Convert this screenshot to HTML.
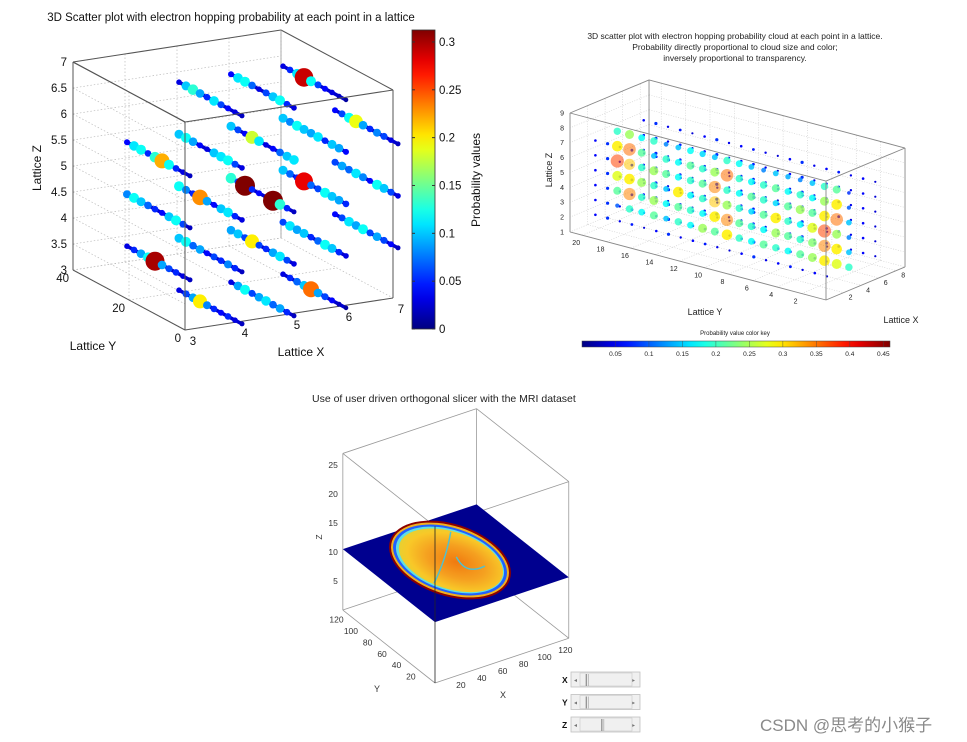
<!DOCTYPE html>
<html><head><meta charset="utf-8">
<style>
html,body{margin:0;padding:0;background:#fff;}
svg{display:block;font-family:"Liberation Sans",Arial,sans-serif;}
.wm{position:absolute;left:760px;top:711px;font:17px "Liberation Sans","Noto Sans CJK SC",sans-serif;color:#8a8a8a;}
</style></head>
<body>
<div style="position:relative;width:967px;height:742px;overflow:hidden">
<svg id="svg" width="967" height="742" viewBox="0 0 967 742">
<defs>
<linearGradient id="jetV" x1="0" y1="1" x2="0" y2="0"></linearGradient>
<linearGradient id="jetH" x1="0" y1="0" x2="1" y2="0"></linearGradient>
<radialGradient id="brainG" cx="0.55" cy="0.5" r="0.55">
<stop offset="0" stop-color="#f07a10"/><stop offset="0.5" stop-color="#f5a020"/><stop offset="0.85" stop-color="#f8c828"/><stop offset="1" stop-color="#e8d030"/>
</radialGradient>
</defs>
<g id="tl"></g>
<g id="tr"></g>
<g id="bm"></g>
</svg>
<div class="wm">CSDN @思考的小猴子</div>
</div>
<script>
// ---------- data: top-left lattice chart ----------
const tlLineX = [4.5,5.5,6.5, 3.5,4.5,5.5,6.5,7.5, 3.5,4.5,5.5,6.5,7.5, 3.5,4.5,5.5,6.5,7.5, 4.5,5.5,6.5];
const tlLineZ = [6.67,6.67,6.67, 5.67,5.67,5.67,5.67,5.67, 4.67,4.67,4.67,4.67,4.67, 3.67,3.67,3.67,3.67,3.67, 2.67,2.67,2.67];
const tlYPositions = [30, 27.5, 25, 22.5, 20, 17.5, 15, 12.5, 10, 7.5];
const tlProb = [
 [0.03,0.10,0.13,0.09,0.05,0.11,0.06,0.04,0.03,0.02],
 [0.04,0.11,0.12,0.07,0.03,0.06,0.10,0.12,0.05,0.03],
 [0.03,0.05,0.11,0.29,0.12,0.06,0.04,0.03,0.02,0.01],
 [0.04,0.11,0.12,0.05,0.13,0.22,0.12,0.05,0.03,0.02],
 [0.10,0.12,0.09,0.04,0.03,0.10,0.11,0.12,0.06,0.03],
 [0.10,0.06,0.04,0.18,0.11,0.03,0.04,0.07,0.10,0.11],
 [0.10,0.08,0.12,0.10,0.09,0.11,0.05,0.10,0.09,0.04],
 [0.04,0.06,0.12,0.19,0.09,0.05,0.08,0.06,0.03,0.02],
 [0.08,0.12,0.10,0.07,0.05,0.04,0.10,0.12,0.06,0.02],
 [0.12,0.08,0.05,0.23,0.09,0.04,0.10,0.11,0.05,0.03],
 [0.13,0.06,0.32,0.05,0.04,0.03,0.32,0.13,0.05,0.02],
 [0.10,0.07,0.05,0.28,0.07,0.06,0.12,0.10,0.09,0.05],
 [0.06,0.09,0.07,0.11,0.08,0.04,0.12,0.10,0.06,0.03],
 [0.03,0.05,0.09,0.12,0.30,0.09,0.06,0.05,0.03,0.02],
 [0.10,0.12,0.07,0.09,0.04,0.06,0.05,0.08,0.05,0.02],
 [0.09,0.10,0.06,0.20,0.06,0.05,0.09,0.11,0.06,0.03],
 [0.06,0.11,0.09,0.10,0.05,0.07,0.12,0.10,0.05,0.03],
 [0.04,0.06,0.11,0.09,0.12,0.06,0.09,0.06,0.04,0.02],
 [0.03,0.06,0.09,0.20,0.08,0.05,0.04,0.05,0.03,0.02],
 [0.03,0.09,0.12,0.06,0.09,0.11,0.07,0.09,0.05,0.02],
 [0.03,0.05,0.07,0.10,0.24,0.09,0.06,0.04,0.02,0.01]];
const tlCbTicks = [0, 0.05, 0.1, 0.15, 0.2, 0.25, 0.3];
const tlZTicks = [3, 3.5, 4, 4.5, 5, 5.5, 6, 6.5, 7];
const tlXTicks = [3, 4, 5, 6, 7];
const tlYTicks = [0, 20, 40];

// ---------- data: top-right cloud chart ----------
const trZLevels = [2, 3, 4, 5, 6, 7];
const trYPositions = [20,19,18,17,16,15,14,13,12,11,10,9,8,7,6,5,4,3,2,1];
const trProbRows = [
 [0.10,0.20,0.18,0.22,0.15,0.20,0.18,0.25,0.22,0.30,0.20,0.18,0.22,0.20,0.18,0.22,0.25,0.30,0.28,0.20],
 [0.22,0.35,0.20,0.25,0.18,0.22,0.20,0.18,0.30,0.35,0.22,0.20,0.18,0.25,0.22,0.20,0.24,0.35,0.30,0.15],
 [0.28,0.30,0.25,0.20,0.15,0.30,0.18,0.20,0.32,0.25,0.20,0.16,0.22,0.30,0.20,0.18,0.28,0.38,0.25,0.12],
 [0.38,0.32,0.20,0.25,0.22,0.18,0.20,0.22,0.35,0.20,0.18,0.22,0.20,0.16,0.22,0.25,0.22,0.30,0.36,0.15],
 [0.30,0.36,0.22,0.15,0.20,0.18,0.22,0.20,0.25,0.36,0.20,0.18,0.20,0.22,0.18,0.20,0.18,0.25,0.30,0.10],
 [0.20,0.25,0.18,0.20,0.12,0.15,0.18,0.16,0.15,0.20,0.18,0.15,0.12,0.15,0.14,0.12,0.15,0.20,0.22,0.08]];
const trOuterProb = [0.06,0.08,0.05,0.07,0.04,0.06,0.08,0.05,0.06,0.07,0.05,0.04,0.06,0.08,0.05,0.06,0.07,0.05,0.06,0.04];
const trOuterX = [1.5, 7];
const trCbTicks = [0.05,0.1,0.15,0.2,0.25,0.3,0.35,0.4,0.45];
const trZTicks = [1,2,3,4,5,6,7,8,9];
const trYTicks = [2,4,6,8,10,12,14,16,18,20];
const trXTicks = [2,4,6,8];

// ---------- data: bottom MRI slicer ----------
const bmZTicks = [5,10,15,20,25];
const bmYTicks = [20,40,60,80,100,120];
const bmXTicks = [20,40,60,80,100,120];
const bmSliceZ = 10.5;
const bmSliders = ["X","Y","Z"];
const bmSliderPos = [0.12, 0.12, 0.42];

const NS = "http://www.w3.org/2000/svg";
function mk(parent, tag, attrs, text){
  const e = document.createElementNS(NS, tag);
  for (const k in attrs) e.setAttribute(k, attrs[k]);
  if (text !== undefined) e.textContent = text;
  parent.appendChild(e); return e;
}
function clamp(v){return Math.max(0,Math.min(1,v));}
function jet(t){
  t = clamp(t);
  const r = clamp(1.5-Math.abs(4*t-3)), g = clamp(1.5-Math.abs(4*t-2)), b = clamp(1.5-Math.abs(4*t-1));
  return "rgb("+Math.round(r*255)+","+Math.round(g*255)+","+Math.round(b*255)+")";
}
["jetV","jetH"].forEach(id=>{
  const g = document.getElementById(id);
  for (let i=0;i<=20;i++) mk(g,"stop",{offset:i/20,"stop-color":jet(i/20)});
});
function line(p, a, b, attrs){ return mk(p,"line",Object.assign({x1:a[0],y1:a[1],x2:b[0],y2:b[1]},attrs)); }
function poly(p, pts, attrs){ return mk(p,"polygon",Object.assign({points:pts.map(q=>q.join(",")).join(" ")},attrs)); }
const edge = {stroke:"#555","stroke-width":1,fill:"none"};
const dot = {stroke:"#bbb","stroke-width":0.7,"stroke-dasharray":"1.5,2"};

// ===== top-left chart =====
(function(){
  const g = document.getElementById("tl");
  const P = (x,y,z)=>[73 + (x-3)*52 + (40-y)*2.8, 270 - (x-3)*8 + (40-y)*1.5 - (z-3)*52];
  let t = mk(g,"text",{x:231,y:21,"font-size":11.5,"text-anchor":"middle",fill:"#111"},"3D Scatter plot with electron hopping probability at each point in a lattice");
   
  tlZTicks.forEach(z=>{ line(g,P(3,40,z),P(7,40,z),dot); line(g,P(3,40,z),P(3,0,z),dot); });
  tlXTicks.forEach(x=>{ line(g,P(x,40,3),P(x,40,7),dot); line(g,P(x,40,3),P(x,0,3),dot); });
  tlYTicks.forEach(y=>{ line(g,P(3,y,3),P(3,y,7),dot); line(g,P(3,y,3),P(7,y,3),dot); });
  line(g,P(3,40,3),P(3,40,7),edge); line(g,P(3,40,7),P(7,40,7),edge); line(g,P(7,40,7),P(7,0,7),edge);
  line(g,P(7,40,7),P(7,40,3),{stroke:"#999","stroke-width":0.8});
  line(g,P(3,40,3),P(3,0,3),edge); line(g,P(3,0,3),P(7,0,3),edge); line(g,P(7,0,3),P(7,0,7),edge);
  line(g,P(3,40,7),P(3,0,7),edge);
  tlLineX.forEach((x,li)=>{
    const z = tlLineZ[li], vals = tlProb[li];
    const a = P(x,tlYPositions[0],z), b = P(x,tlYPositions[tlYPositions.length-1],z);
    const l = line(g,a,b,{stroke:"#0000d0","stroke-width":3.5,"stroke-linecap":"round"});
     
    vals.forEach((p,i)=>{
      const q = P(x,tlYPositions[i],z);
      const c = mk(g,"circle",{cx:q[0].toFixed(1),cy:q[1].toFixed(1),r:(2+25*p).toFixed(1),fill:jet(p/0.3125)});
       
    });
  });
  line(g,P(3,0,3),P(3,0,7),edge); line(g,P(3,0,7),P(7,0,7),edge); line(g,P(3,0,7),P(3,40,7),edge);
  tlZTicks.forEach(z=>{ const q=P(3,40,z); const e=mk(g,"text",{x:q[0]-6,y:q[1]+4,"font-size":11.5,"text-anchor":"end",fill:"#111"},String(z));   });
  tlXTicks.forEach(x=>{ const q=P(x,0,3); const e=mk(g,"text",{x:q[0]+8,y:q[1]+15,"font-size":11.5,"text-anchor":"middle",fill:"#111"},String(x));   });
  tlYTicks.forEach(y=>{ const q=P(3,y,3); const e=mk(g,"text",{x:q[0]-4,y:q[1]+12,"font-size":11.5,"text-anchor":"end",fill:"#111"},String(y));   });
  let e;
  e=mk(g,"text",{x:0,y:0,"font-size":12,"text-anchor":"middle",fill:"#111",transform:"translate(41,168) rotate(-90)"},"Lattice Z");  
  e=mk(g,"text",{x:93,y:350,"font-size":12,"text-anchor":"middle",fill:"#111"},"Lattice Y");  
  e=mk(g,"text",{x:301,y:356,"font-size":12,"text-anchor":"middle",fill:"#111"},"Lattice X");  
  const cb = mk(g,"rect",{x:412,y:30,width:23,height:299,fill:"url(#jetV)",stroke:"#333","stroke-width":0.8});
   
  const cy = v => 329 - v/0.3125*299;
  tlCbTicks.forEach(v=>{
    line(g,[412,cy(v)],[415,cy(v)],{stroke:"#333"}); line(g,[432,cy(v)],[435,cy(v)],{stroke:"#333"});
    const e=mk(g,"text",{x:439,y:cy(v)+4,"font-size":11.5,fill:"#111"},String(v));  
  });
  e=mk(g,"text",{x:0,y:0,"font-size":12,"text-anchor":"middle",fill:"#111",transform:"translate(480,180) rotate(-90)"},"Probability values");  
})();

// ===== top-right chart =====
(function(){
  const g = document.getElementById("tr");
  const P = (x,y,z)=>[826 - 12.19*y + 8.78*x, 300 - 3.24*y - 3.67*x - 14.87*(z-1)];
  ["3D scatter plot with electron hopping probability cloud at each point in a lattice.","Probability directly proportional to cloud size and color;","inversely proportional to transparency."].forEach((s,i)=>{
    const e=mk(g,"text",{x:735,y:39+i*11,"font-size":8.5,"text-anchor":"middle",fill:"#222"},s);  
  });
  const d2 = {stroke:"#ccc","stroke-width":0.6,"stroke-dasharray":"1,1.5"};
  trZTicks.forEach(z=>{ line(g,P(9,21,z),P(0,21,z),d2); line(g,P(9,21,z),P(9,0,z),d2); });
  trYTicks.forEach(y=>{ line(g,P(9,y,1),P(9,y,9),d2); line(g,P(0,y,1),P(9,y,1),d2); });
  trXTicks.forEach(x=>{ line(g,P(x,21,1),P(x,21,9),d2); line(g,P(x,21,1),P(x,0,1),d2); });
  const e1 = {stroke:"#888","stroke-width":0.9,fill:"none"};
  line(g,P(9,21,1),P(9,21,9),e1); line(g,P(0,21,9),P(9,21,9),e1); line(g,P(9,21,9),P(9,0,9),e1);
  line(g,P(0,21,1),P(0,21,9),e1); line(g,P(0,21,1),P(0,0,1),e1); line(g,P(0,0,1),P(9,0,1),e1); line(g,P(9,0,1),P(9,0,9),e1);
  trOuterX.forEach(x=>trZLevels.forEach(z=>trYPositions.forEach((y,i)=>{
    const p = trOuterProb[i], q = P(x,y,z);
    const c = mk(g,"circle",{cx:q[0].toFixed(1),cy:q[1].toFixed(1),r:(0.6+12*p).toFixed(1),fill:jet(p/0.47)});
     
  })));
  trZLevels.forEach((z,zi)=>trYPositions.forEach((y,i)=>{
    const p = trProbRows[zi][i], q = P(4,y,z);
    const c = mk(g,"circle",{cx:q[0].toFixed(1),cy:q[1].toFixed(1),r:(0.5+16*p).toFixed(1),fill:jet(p/0.47),"fill-opacity":(p>0.3?0.55:0.85)});
     
  }));
  line(g,P(0,21,9),P(0,0,9),e1); line(g,P(0,0,9),P(9,0,9),e1); line(g,P(0,0,1),P(0,0,9),e1);
  trZTicks.forEach(z=>{ const q=P(0,21,z); const e=mk(g,"text",{x:q[0]-6,y:q[1]+2.5,"font-size":7,"text-anchor":"end",fill:"#222"},String(z));   });
  trYTicks.forEach(y=>{ const q=P(0,y,1); const e=mk(g,"text",{x:q[0]-6,y:q[1]+10,"font-size":7,"text-anchor":"middle",fill:"#222"},String(y));   });
  trXTicks.forEach(x=>{ const q=P(x,0,1); const e=mk(g,"text",{x:q[0]+7,y:q[1]+7,"font-size":7,"text-anchor":"middle",fill:"#222"},String(x));   });
  let e;
  e=mk(g,"text",{x:0,y:0,"font-size":9,"text-anchor":"middle",fill:"#222",transform:"translate(552,170) rotate(-90)"},"Lattice Z");  
  e=mk(g,"text",{x:705,y:315,"font-size":9,"text-anchor":"middle",fill:"#222"},"Lattice Y");  
  e=mk(g,"text",{x:901,y:323,"font-size":9,"text-anchor":"middle",fill:"#222"},"Lattice X");  
  e=mk(g,"text",{x:735,y:335,"font-size":6,"text-anchor":"middle",fill:"#222"},"Probability value color key");  
  const cb = mk(g,"rect",{x:582,y:341,width:308,height:6,fill:"url(#jetH)",stroke:"#444","stroke-width":0.5});
   
  const cx = v => 582 + v/0.46*308;
  trCbTicks.forEach(v=>{
    line(g,[cx(v),341],[cx(v),347],{stroke:"#444","stroke-width":0.4});
    const e=mk(g,"text",{x:cx(v),y:356,"font-size":6.5,"text-anchor":"middle",fill:"#222"},String(v));  
  });
})();

// ===== bottom MRI chart =====
(function(){
  const g = document.getElementById("bm");
  const P = (x,y,z)=>[435 + x*1.045 - y*0.72, 683 - x*0.35 - y*0.57 - z*5.8];
  let e = mk(g,"text",{x:312,y:402,"font-size":10.5,fill:"#222"},"Use of user driven orthogonal slicer with the MRI dataset");
   
  const e1 = {stroke:"#999","stroke-width":0.8,fill:"none"};
  const T = 27;
  line(g,P(0,128,0),P(0,128,T),e1); line(g,P(0,128,T),P(128,128,T),e1); line(g,P(128,128,T),P(128,128,0),e1);
  line(g,P(0,128,0),P(128,128,0),e1); line(g,P(128,128,0),P(128,0,0),e1);
  line(g,P(0,0,0),P(0,128,0),e1); line(g,P(0,0,0),P(128,0,0),e1); line(g,P(128,0,0),P(128,0,T),e1);
  line(g,P(0,128,T),P(0,0,T),e1); line(g,P(128,128,T),P(128,0,T),e1); line(g,P(0,0,T),P(128,0,T),e1);
  const z = bmSliceZ;
  const pl = poly(g,[P(0,0,z),P(128,0,z),P(128,128,z),P(0,128,z)],{fill:"#00008f"});
   
  const bg = mk(g,"g",{transform:"translate(450,560) rotate(18)"});
   
  mk(bg,"ellipse",{cx:0,cy:0,rx:63,ry:36,fill:"#8b0000"});
  mk(bg,"ellipse",{cx:0,cy:0,rx:61,ry:34,fill:"#f0b020"});
  mk(bg,"ellipse",{cx:0,cy:0,rx:59,ry:32,fill:"#2060ff"});
  mk(bg,"ellipse",{cx:0,cy:0,rx:56,ry:30,fill:"#60e0e0"});
  mk(bg,"ellipse",{cx:1,cy:0,rx:54,ry:28.5,fill:"url(#brainG)"});
  mk(bg,"path",{d:"M-8,-27 Q-4,0 -8,27 M5,-5 Q20,10 35,-5",stroke:"#50c0d0","stroke-width":1.5,fill:"none"});
  line(g,P(0,0,0),P(0,0,T),{stroke:"#222","stroke-width":0.8});
  bmZTicks.forEach(v=>{ const q=P(0,128,v); const e=mk(g,"text",{x:q[0]-5,y:q[1]+3,"font-size":8.5,"text-anchor":"end",fill:"#333"},String(v));   });
  bmYTicks.forEach(v=>{ const q=P(0,v,0); const e=mk(g,"text",{x:q[0]-5,y:q[1]+8,"font-size":8.5,"text-anchor":"end",fill:"#333"},String(v));   });
  bmXTicks.forEach(v=>{ const q=P(v,0,0); const e=mk(g,"text",{x:q[0]+5,y:q[1]+12,"font-size":8.5,"text-anchor":"middle",fill:"#333"},String(v));   });
  e=mk(g,"text",{x:0,y:0,"font-size":8.5,"text-anchor":"middle",fill:"#333",transform:"translate(322,537) rotate(-90)"},"Z");  
  e=mk(g,"text",{x:377,y:692,"font-size":9,"text-anchor":"middle",fill:"#333"},"Y");  
  e=mk(g,"text",{x:503,y:698,"font-size":9,"text-anchor":"middle",fill:"#333"},"X");  
  bmSliders.forEach((s,i)=>{
    const y = 672 + i*22.5;
    const t = mk(g,"text",{x:562,y:y+11,"font-size":8.5,"font-weight":"bold",fill:"#111"},s);
     
    const sg = mk(g,"g",{});
     
    mk(sg,"rect",{x:571,y:y,width:69,height:15,fill:"#f0f0f0",stroke:"#c0c0c0","stroke-width":0.8});
    mk(sg,"text",{x:574,y:y+10,"font-size":6,fill:"#777"},"◂");
    mk(sg,"text",{x:632,y:y+10,"font-size":6,fill:"#777"},"▸");
    const tx = 580 + bmSliderPos[i]*52;
    mk(sg,"rect",{x:580,y:y+1,width:52,height:13,fill:"none",stroke:"#c8c8c8","stroke-width":0.6});
    mk(sg,"line",{x1:tx,y1:y+2,x2:tx,y2:y+14,stroke:"#777","stroke-width":1});
    mk(sg,"line",{x1:tx+2,y1:y+2,x2:tx+2,y2:y+14,stroke:"#999","stroke-width":0.6});
  });
})();
</script>
</body></html>
